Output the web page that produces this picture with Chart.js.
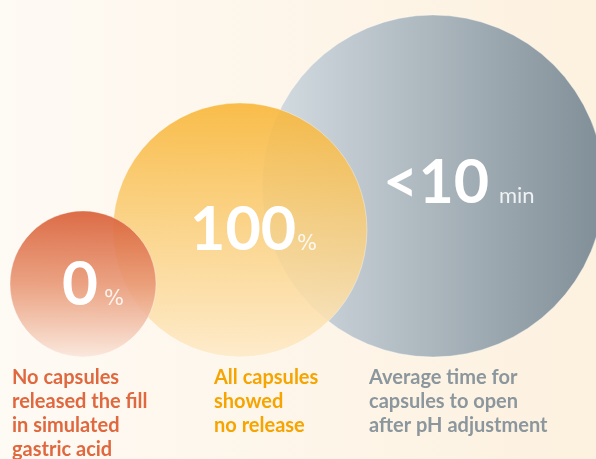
<!DOCTYPE html>
<html lang="en">
<head>
    <meta charset="UTF-8">
    <title>Capsule release</title>
    <script src="https://cdn.jsdelivr.net/npm/chart.js@4.4.0/dist/chart.umd.min.js"></script>
    <style>
        html, body { margin: 0; padding: 0; background: #fdf7ee; }
        #wrap { width: 596px; height: 459px; }
    </style>
</head>
<body>
    <div id="wrap"><canvas id="bubbles" width="596" height="459"></canvas></div>

    <script>
        // Data
        const categories = ['No capsules released the fill in simulated gastric acid',
                            'All capsules showed no release',
                            'Average time for capsules to open after pH adjustment'];
        const values = ['0', '100', '<10'];
        const units = ['%', '%', 'min'];
        const labelLines = [
            ['No capsules', 'released the fill', 'in simulated', 'gastric acid'],
            ['All capsules', 'showed', 'no release'],
            ['Average time for', 'capsules to open', 'after pH adjustment']
        ];

        // Layout (scale units == canvas pixels), drawn back to front
        const order = [2, 1, 0];
        const centerX = [83, 240, 433];
        const centerY = [284, 230, 186];
        const radius = [73, 127, 171];

        const textColors = ['#e0683f', '#f5a400', '#8b969d'];

        function fillFor(ctx) {
            const chart = ctx.chart;
            if (!chart.chartArea) return 'transparent';
            const i = ctx.raw ? ctx.raw.idx : 0;
            const c = chart.ctx;
            const xs = chart.scales.x, ys = chart.scales.y;
            const px = xs.getPixelForValue(centerX[i]);
            const py = ys.getPixelForValue(centerY[i]);
            const r = radius[i];
            let g;
            if (i === 0) {
                g = c.createLinearGradient(0, py - r, 0, py + r);
                g.addColorStop(0, 'rgba(217,96,56,0.92)');
                g.addColorStop(0.5, 'rgba(232,150,115,0.88)');
                g.addColorStop(1, 'rgba(250,230,218,0.9)');
            } else if (i === 1) {
                g = c.createLinearGradient(0, py - r, 0, py + r);
                g.addColorStop(0, 'rgba(248,182,56,0.9)');
                g.addColorStop(0.5, 'rgba(250,207,124,0.85)');
                g.addColorStop(1, 'rgba(254,234,200,0.9)');
            } else {
                g = c.createLinearGradient(px - r, 0, px + r, 0);
                g.addColorStop(0, '#d6dee3');
                g.addColorStop(1, '#808e97');
            }
            return g;
        }

        const points = order.map(i => ({ x: centerX[i], y: centerY[i], r: radius[i], idx: i }));

        const background = {
            id: 'background',
            beforeDraw(chart) {
                const c = chart.ctx;
                const g = c.createLinearGradient(0, 0, chart.width, 0);
                g.addColorStop(0, '#fefaf4');
                g.addColorStop(1, '#fdf1df');
                c.save();
                c.fillStyle = g;
                c.fillRect(0, 0, chart.width, chart.height);
                c.restore();
            }
        };

        const texts = {
            id: 'texts',
            afterDatasetsDraw(chart) {
                const c = chart.ctx;
                const meta = chart.getDatasetMeta(0);
                const bigSize = [62, 61, 61];
                const unitFont = ['21px "DejaVu Sans"', '21px "DejaVu Sans"', '22px Lato'];
                const baseOffset = [21, 20, 17];
                const leftOffset = [-21, -50, -50];
                const unitOffset = [21, 57, 66];
                c.save();
                c.textBaseline = 'alphabetic';
                c.textAlign = 'left';
                meta.data.forEach((el, k) => {
                    const i = points[k].idx;
                    const base = el.y + baseOffset[i];
                    c.fillStyle = '#ffffff';
                    c.font = 'bold ' + bigSize[i] + 'px Lato';
                    c.fillText(values[i], el.x + leftOffset[i], base);
                    c.globalAlpha = 0.85;
                    c.font = unitFont[i];
                    c.fillText(units[i], el.x + unitOffset[i], base);
                    c.globalAlpha = 1;
                });
                // captions under the circles
                const captionX = [12, 214, 369];
                c.font = 'bold 20px Lato';
                labelLines.forEach((lines, i) => {
                    c.fillStyle = textColors[i];
                    lines.forEach((t, j) => {
                        c.fillText(t, captionX[i], 384 + j * 24);
                    });
                });
                c.restore();
            }
        };

        new Chart(document.getElementById('bubbles'), {
            type: 'bubble',
            data: {
                datasets: [{
                    label: 'Capsule results',
                    data: points,
                    backgroundColor: fillFor,
                    borderColor: 'rgba(255,255,255,0.35)',
                    borderWidth: 1
                }]
            },
            options: {
                responsive: false,
                animation: false,
                events: [],
                layout: { padding: 0, autoPadding: false },
                plugins: {
                    legend: { display: false },
                    tooltip: { enabled: false }
                },
                scales: {
                    x: { type: 'linear', min: 0, max: 596, display: false },
                    y: { type: 'linear', min: 0, max: 459, reverse: true, display: false }
                },
                clip: false
            },
            plugins: [background, texts]
        });
    </script>
</body>
</html>
